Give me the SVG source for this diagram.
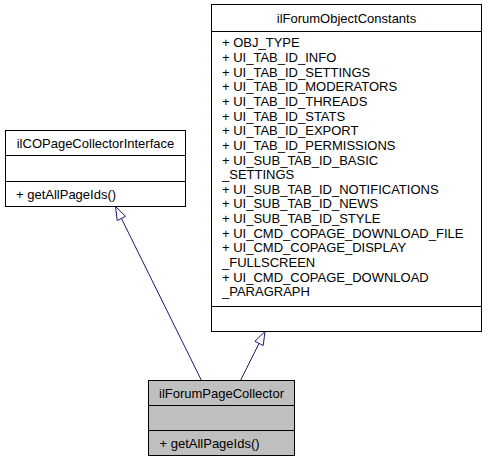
<svg xmlns="http://www.w3.org/2000/svg" width="487" height="463" viewBox="0 0 487 463">
<style>
  .box { fill: #ffffff; stroke: #000000; stroke-width: 1; }
  .cur { fill: #bfbfbf; stroke: #000000; stroke-width: 1; }
  .sep { fill: none; stroke: #000000; stroke-width: 1; }
  text { font-family: "Liberation Sans", Arial, Helvetica, sans-serif; font-size: 13px; fill: #000000; }
  .t { text-anchor: middle; }
  .edge { fill: none; stroke: #191970; stroke-width: 1; }
  .head { fill: #ffffff; stroke: #191970; stroke-width: 1; }
</style>
<rect width="487" height="463" fill="#ffffff"/>
<g id="connectors">
  <path class="edge" d="M201.5,380.5 L121.4,218.4"/>
  <polygon class="head" points="115.5,206.5 125.58,216.35 117.2,220.49"/>
  <path class="edge" d="M240.5,380.5 L259.05,343.4"/>
  <polygon class="head" points="265,331.5 263.23,345.49 254.87,341.31"/>
</g>
<g id="ilForumObjectConstants">
  <rect class="box" x="211.5" y="4.5" width="270" height="327"/>
  <path class="sep" d="M211.5,31.5 H481.5 M211.5,306.5 H481.5"/>
  <text class="t" x="346.5" y="22.6">ilForumObjectConstants</text>
  <text x="222" y="47.3">+ OBJ_TYPE</text>
  <text x="222" y="61.95">+ UI_TAB_ID_INFO</text>
  <text x="222" y="76.6">+ UI_TAB_ID_SETTINGS</text>
  <text x="222" y="91.25">+ UI_TAB_ID_MODERATORS</text>
  <text x="222" y="105.9">+ UI_TAB_ID_THREADS</text>
  <text x="222" y="120.55">+ UI_TAB_ID_STATS</text>
  <text x="222" y="135.2">+ UI_TAB_ID_EXPORT</text>
  <text x="222" y="149.85">+ UI_TAB_ID_PERMISSIONS</text>
  <text x="222" y="164.5">+ UI_SUB_TAB_ID_BASIC</text>
  <text x="222" y="179.15">_SETTINGS</text>
  <text x="222" y="193.8">+ UI_SUB_TAB_ID_NOTIFICATIONS</text>
  <text x="222" y="208.45">+ UI_SUB_TAB_ID_NEWS</text>
  <text x="222" y="223.1">+ UI_SUB_TAB_ID_STYLE</text>
  <text x="222" y="237.75">+ UI_CMD_COPAGE_DOWNLOAD_FILE</text>
  <text x="222" y="252.4">+ UI_CMD_COPAGE_DISPLAY</text>
  <text x="222" y="267.05">_FULLSCREEN</text>
  <text x="222" y="281.7">+ UI_CMD_COPAGE_DOWNLOAD</text>
  <text x="222" y="296.35">_PARAGRAPH</text>
</g>
<g id="ilCOPageCollectorInterface">
  <rect class="box" x="5.5" y="130.5" width="180" height="76"/>
  <path class="sep" d="M5.5,155.5 H185.5 M5.5,181.5 H185.5"/>
  <text class="t" x="95.5" y="147.6">ilCOPageCollectorInterface</text>
  <text x="16" y="198.6">+ getAllPageIds()</text>
</g>
<g id="ilForumPageCollector">
  <rect class="cur" x="148.5" y="380.5" width="146" height="75"/>
  <path class="sep" d="M148.5,405.5 H294.5 M148.5,430.5 H294.5"/>
  <text class="t" x="221.5" y="397.6">ilForumPageCollector</text>
  <text x="159.5" y="447.6">+ getAllPageIds()</text>
</g>
</svg>
